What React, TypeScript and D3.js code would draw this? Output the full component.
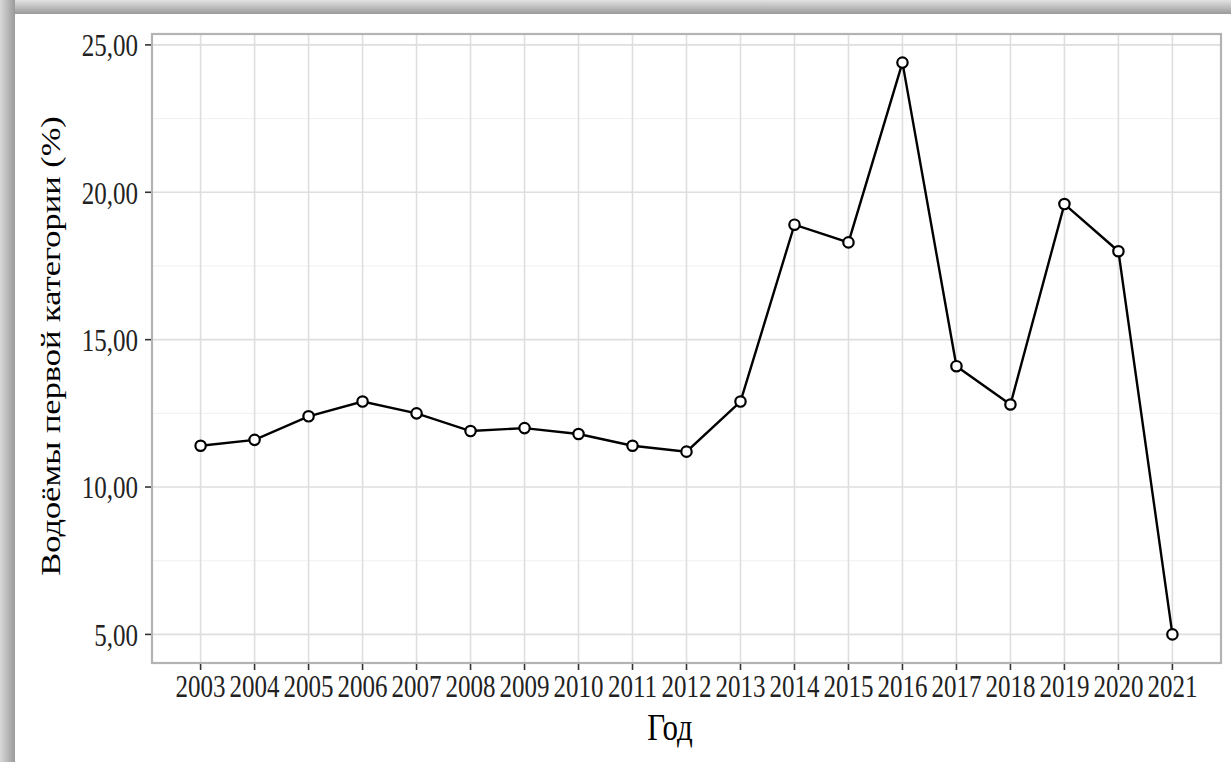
import React from "react";
import * as d3 from "d3";

const years = [2003, 2004, 2005, 2006, 2007, 2008, 2009, 2010, 2011, 2012, 2013, 2014, 2015, 2016, 2017, 2018, 2019, 2020, 2021];
const values = [11.4, 11.6, 12.4, 12.9, 12.5, 11.9, 12.0, 11.8, 11.4, 11.2, 12.9, 18.9, 18.3, 24.4, 14.1, 12.8, 19.6, 18.0, 5.0];
const yTicks = [5, 10, 15, 20, 25];
const yMinor = [7.5, 12.5, 17.5, 22.5];
const xTitle = "Год";
const yTitle = "Водоёмы первой категории (%)";

const W = 1231;
const H = 762;
const FONT = "'Liberation Serif', 'DejaVu Serif', serif";

export default function App() {
  const left = 152, right = 1221, top = 34, bottom = 663;
  const xs = d3.scaleLinear().domain([2003 - 0.9, 2021 + 0.9]).range([left, right]);
  const yMin = 5, yMax = 24.4;
  const pad = (yMax - yMin) * 0.05;
  const ys = d3.scaleLinear().domain([yMin - pad, yMax + pad]).range([bottom, top]);
  const line = d3.line<number>().x((_, i) => xs(years[i])).y((d) => ys(d));
  const fmt = (v: number) => v.toFixed(2).replace(".", ",");

  return (
    <div style={{ position: "fixed", left: 0, top: 0, width: W, height: H, background: "#fff" }}>
      <svg width={W} height={H} style={{ display: "block" }}>
        <defs>
          <linearGradient id="topShadow" x1="0" y1="0" x2="0" y2="1">
            <stop offset="0" stopColor="#e2e2e2" />
            <stop offset="1" stopColor="#9a9a9a" />
          </linearGradient>
          <linearGradient id="leftShadow" x1="0" y1="0" x2="1" y2="0">
            <stop offset="0" stopColor="#d8d8d8" />
            <stop offset="1" stopColor="#9a9a9a" />
          </linearGradient>
        </defs>
        <rect x={0} y={0} width={W} height={H} fill="#fff" />
        <rect x={0} y={0} width={W} height={14} fill="url(#topShadow)" />
        <rect x={0} y={0} width={15} height={H} fill="url(#leftShadow)" />

        {yMinor.map((v) => (
          <line key={"mn" + v} x1={left} x2={right} y1={ys(v)} y2={ys(v)} stroke="#f0f0f0" strokeWidth={1} />
        ))}
        {yTicks.map((v) => (
          <line key={"mj" + v} x1={left} x2={right} y1={ys(v)} y2={ys(v)} stroke="#dedede" strokeWidth={1.6} />
        ))}
        {years.map((yr) => (
          <line key={"vx" + yr} x1={xs(yr)} x2={xs(yr)} y1={top} y2={bottom} stroke="#dedede" strokeWidth={1.6} />
        ))}
        <rect x={left} y={top} width={right - left} height={bottom - top} fill="none" stroke="#b3b3b3" strokeWidth={2.2} />

        {yTicks.map((v) => (
          <g key={"yt" + v}>
            <line x1={left - 7} x2={left - 1} y1={ys(v)} y2={ys(v)} stroke="#333" strokeWidth={1.6} />
            <text
              transform={`translate(${left - 14}, ${ys(v)}) scale(1, 1.3)`}
              dy="0.35em"
              textAnchor="end"
              fontFamily={FONT}
              fontSize={25}
              fill="#222"
            >
              {fmt(v)}
            </text>
          </g>
        ))}
        {years.map((yr) => (
          <g key={"xt" + yr}>
            <line x1={xs(yr)} x2={xs(yr)} y1={bottom + 1} y2={bottom + 7} stroke="#333" strokeWidth={1.6} />
            <text
              transform={`translate(${xs(yr)}, 697) scale(1, 1.3)`}
              textAnchor="middle"
              fontFamily={FONT}
              fontSize={25}
              fill="#222"
            >
              {yr}
            </text>
          </g>
        ))}

        <path d={line(values) || ""} fill="none" stroke="#000" strokeWidth={2.4} />
        {values.map((v, i) => (
          <circle key={"pt" + i} cx={xs(years[i])} cy={ys(v)} r={5.2} fill="#fff" stroke="#000" strokeWidth={2.2} />
        ))}

        <text
          transform={`translate(670, 740) scale(1, 1.22)`}
          textAnchor="middle"
          fontFamily={FONT}
          fontSize={31}
          fill="#000"
        >
          {xTitle}
        </text>
        <text
          transform={`translate(60, 346) rotate(-90) scale(1.23, 1)`}
          textAnchor="middle"
          fontFamily={FONT}
          fontSize={28}
          fill="#000"
        >
          {yTitle}
        </text>
      </svg>
    </div>
  );
}
